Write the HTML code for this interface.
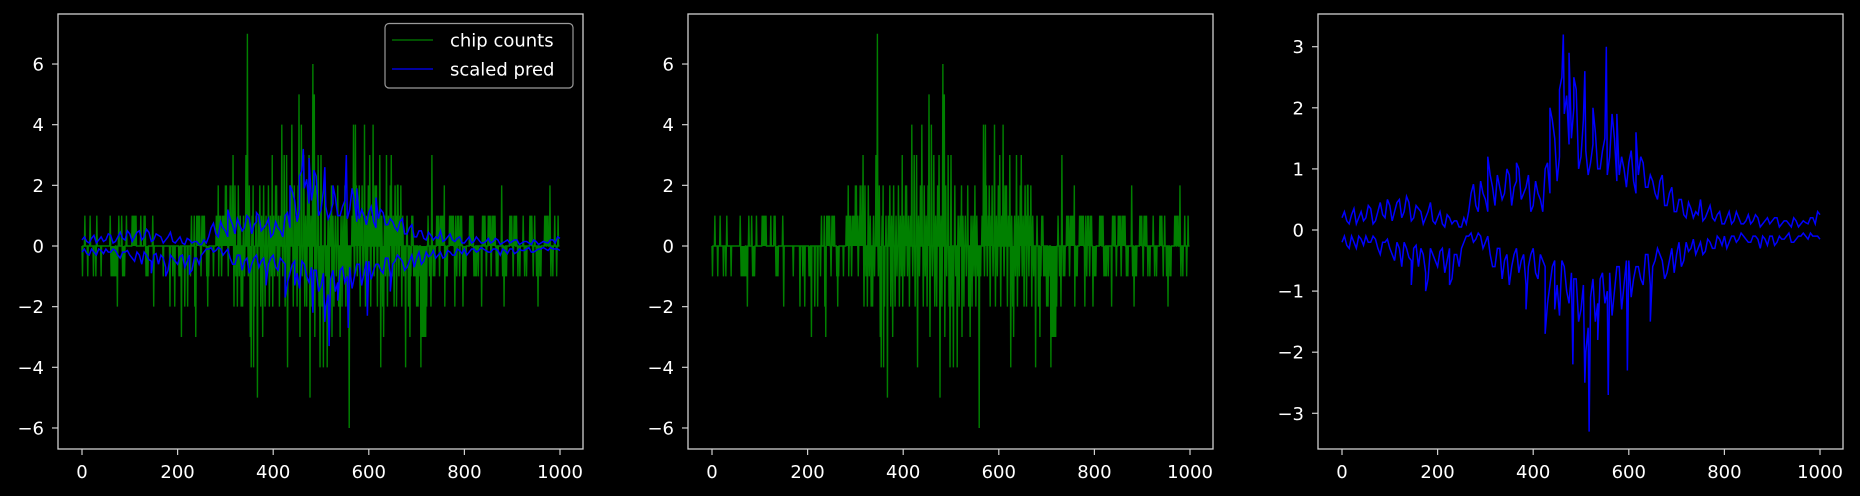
<!DOCTYPE html>
<html><head><meta charset="utf-8"><style>
html,body{margin:0;padding:0;background:#000;}
svg{display:block;}
text{font-family:"DejaVu Sans","Liberation Sans",sans-serif;fill:#fff;font-size:18px;}
</style></head><body>
<svg id="chart" width="1860" height="496" viewBox="0 0 1860 496" xmlns="http://www.w3.org/2000/svg">
<rect x="0" y="0" width="1860" height="496" fill="#000"/>
</svg>
<script>
// ---- data ----
const xTicks = [0, 200, 400, 600, 800, 1000];
const yTicksCounts = [-6, -4, -2, 0, 2, 4, 6];
const yTicksPred = [-3, -2, -1, 0, 1, 2, 3];
const chipIdx = [1,6,12,17,24,29,31,40,59,61,63,65,67,69,72,74,77,83,85,87,89,93,105,107,109,111,113,123,130,132,134,136,138,148,150,170,184,190,194,203,205,208,215,221,227,229,235,236,238,240,242,244,246,249,251,253,256,261,263,265,275,281,283,285,286,288,290,292,294,296,298,300,302,304,306,308,310,312,314,316,318,320,322,325,327,329,331,333,336,338,340,343,346,348,350,352,354,356,358,359,361,364,367,369,372,374,376,378,380,383,385,387,390,392,394,396,398,399,401,403,405,407,409,411,413,415,418,420,423,425,428,430,432,434,436,439,442,444,446,448,450,452,454,456,459,461,464,466,468,470,472,475,477,479,481,483,486,487,489,491,494,496,498,500,502,505,508,510,513,515,517,519,522,523,525,527,530,532,535,537,540,542,544,546,548,550,552,554,556,559,562,565,568,570,572,574,576,578,580,582,584,586,588,591,593,595,597,599,602,604,606,609,611,613,616,618,620,623,625,627,629,631,633,635,637,639,641,643,645,647,649,651,653,655,657,658,660,661,663,665,667,669,671,673,677,680,683,686,688,690,692,694,697,700,703,705,709,711,713,715,717,719,721,724,727,730,732,735,738,742,744,746,748,750,752,754,756,758,759,762,764,769,771,773,775,777,780,782,784,786,788,790,792,794,797,799,801,803,811,813,815,818,820,822,825,829,836,838,840,843,846,850,852,854,856,858,860,862,864,867,870,878,880,883,885,888,895,897,899,902,904,906,909,912,916,923,926,930,937,939,941,944,947,951,954,958,960,968,970,973,975,979,981,985,989,993,996];
const chipVal = [-1,1,-1,1,-1,-1,1,-1,1,-1,-1,-1,-1,-1,-1,-2,1,1,-1,-1,-1,1,1,1,1,1,1,1,1,1,-1,-1,-1,1,-2,-1,-2,-1,-2,-1,-1,-3,-2,-2,-1,1,1,-2,-3,1,1,1,1,-1,1,1,1,-1,-2,-1,-1,1,1,2,-1,1,1,-1,1,1,1,2,2,1,-1,1,2,1,2,3,-2,2,-1,-2,2,-1,1,-2,-2,1,-1,3,7,-1,2,-3,-4,1,2,-4,-2,1,-5,1,2,-2,1,-3,2,-2,1,-1,2,-2,1,-1,3,-2,1,-1,2,2,-1,1,-2,1,4,-1,3,-2,3,-4,1,-1,2,4,-2,2,-1,1,-2,2,5,-3,4,-1,3,-2,1,-2,2,3,-5,1,-2,6,5,-3,2,-1,3,-2,-4,3,-2,-4,2,-1,-4,1,-2,1,2,-3,1,-2,1,-1,2,-2,-3,1,-2,1,-1,2,-2,1,-1,-6,-1,1,4,-1,4,2,-1,1,2,-2,1,2,-1,4,-2,1,-1,2,3,-2,1,4,-1,2,2,-2,1,3,-4,1,-2,-3,1,-1,3,-2,1,-1,2,3,-1,1,-2,2,1,-2,2,2,-1,1,2,-2,1,-1,-4,1,-2,-3,-1,1,1,-1,-1,-2,-2,-1,-4,-3,-3,-3,-3,-3,-2,1,-1,-2,3,-1,-1,1,1,1,-1,1,1,1,1,2,-2,-1,-1,1,1,1,1,1,-2,1,-1,1,1,-1,1,1,-2,-1,-1,-1,1,1,1,1,-1,-1,-1,-1,-2,1,1,1,-1,1,1,1,-1,1,1,1,1,-1,-1,2,-1,-2,-1,-1,1,1,1,-1,1,1,1,-1,-1,1,-1,-1,1,1,1,-1,1,-1,-2,-1,-1,1,1,1,1,2,-1,-1,1,-1,1];
const predIdx = [0,10,20,30,40,50,60,70,80,90,100,110,120,130,140,150,160,170,180,190,200,210,220,230,240,250,260,270,280,290,300,310,320,330,340,350,360,370,380,390,400,410,420,430,440,450,460,470,480,490,500,510,520,530,540,550,560,570,580,590,600,610,620,630,640,650,660,670,680,690,700,710,720,730,740,750,760,770,780,790,800,810,820,830,840,850,860,870,880,890,900,910,920,930,940,950,960,970,980,990,1000];
const predUpper = [0.2,0.15,0.25,0.1,0.3,0.2,0.35,0.15,0.45,0.2,0.4,0.3,0.5,0.3,0.45,0.2,0.35,0.1,0.3,0.15,0.2,0.1,0.25,0.1,0.15,0.05,0.1,0.6,0.4,0.8,0.5,0.9,0.4,0.7,0.6,0.9,0.7,1.0,0.6,0.9,0.4,0.6,0.3,1.1,1.8,0.8,2.5,2.2,1.5,2.3,1.2,1.3,1.1,1.6,1.0,1.5,1.2,1.5,0.9,1.0,1.1,0.8,0.9,1.1,0.7,0.8,0.5,0.9,0.4,0.7,0.3,0.5,0.2,0.35,0.3,0.5,0.2,0.4,0.15,0.3,0.1,0.3,0.15,0.2,0.1,0.25,0.15,0.2,0.1,0.2,0.15,0.2,0.1,0.15,0.05,0.15,0.1,0.12,0.2,0.1,0.25];
const predLower = [-0.2,-0.25,-0.1,-0.3,-0.15,-0.1,-0.2,-0.15,-0.4,-0.2,-0.3,-0.5,-0.3,-0.2,-0.45,-0.3,-0.6,-0.4,-0.8,-0.4,-0.6,-0.3,-0.5,-0.8,-0.4,-0.3,-0.1,-0.05,-0.15,-0.1,-0.2,-0.4,-0.6,-0.3,-0.5,-0.9,-0.4,-0.7,-0.4,-0.6,-0.3,-0.8,-0.5,-1.2,-0.6,-0.9,-0.5,-1.0,-0.7,-0.8,-1.3,-2.0,-1.1,-1.5,-0.8,-1.2,-0.7,-1.0,-0.6,-0.9,-0.5,-0.8,-0.6,-0.9,-0.4,-0.6,-0.3,-0.5,-0.7,-0.3,-0.4,-0.6,-0.2,-0.3,-0.4,-0.2,-0.35,-0.2,-0.3,-0.15,-0.1,-0.2,-0.1,-0.15,-0.1,-0.2,-0.1,-0.15,-0.1,-0.25,-0.1,-0.2,-0.15,-0.1,-0.2,-0.15,-0.1,-0.1,-0.05,-0.1,-0.15];
const predMidIdx = [5,15,25,35,45,55,65,75,85,95,105,115,125,135,145,155,165,175,185,195,205,215,225,235,245,255,265,275,285,295,305,315,325,335,345,355,365,375,385,395,405,415,425,435,445,455,465,475,485,495,505,515,525,535,545,555,565,575,585,595,605,615,625,635,645,655,665,675,685,695,705,715,725,735,745,755,765,775,785,795,805,815,825,835,845,855,865,875,885,895,905,915,925,935,945,955,965,975,985,995];
const predUpperMid = [0.3,0.1,0.35,0.2,0.15,0.4,0.1,0.3,0.25,0.5,0.15,0.45,0.2,0.55,0.15,0.4,0.3,0.2,0.45,0.1,0.3,0.05,0.2,0.15,0.05,0.2,0.3,0.75,0.3,0.6,0.3,0.7,0.9,0.5,1.0,0.4,0.8,0.5,0.7,0.3,0.8,0.5,1.0,0.6,1.5,1.2,1.9,1.4,2.0,1.0,1.8,0.9,1.4,1.0,1.3,0.9,1.9,0.8,1.2,0.7,1.3,0.6,1.2,0.7,0.9,0.6,0.8,0.4,0.6,0.3,0.5,0.25,0.45,0.2,0.25,0.15,0.3,0.2,0.25,0.1,0.2,0.1,0.3,0.1,0.15,0.1,0.25,0.05,0.15,0.1,0.2,0.05,0.15,0.1,0.2,0.05,0.15,0.1,0.2,0.3];
const predLowerMid = [-0.1,-0.3,-0.2,-0.1,-0.25,-0.2,-0.1,-0.3,-0.2,-0.15,-0.4,-0.2,-0.6,-0.3,-0.5,-0.25,-0.3,-0.7,-0.3,-0.5,-0.35,-0.7,-0.3,-0.4,-0.6,-0.2,-0.1,-0.2,-0.05,-0.3,-0.1,-0.6,-0.3,-0.8,-0.4,-0.6,-0.3,-0.5,-0.9,-0.4,-0.7,-0.4,-0.6,-0.9,-0.5,-1.4,-0.6,-1.2,-0.8,-1.5,-0.9,-1.6,-0.8,-1.2,-0.7,-1.0,-1.4,-0.6,-1.3,-0.5,-1.1,-0.6,-0.8,-0.4,-0.9,-0.5,-0.4,-0.8,-0.5,-0.7,-0.2,-0.5,-0.35,-0.15,-0.3,-0.4,-0.15,-0.3,-0.1,-0.25,-0.3,-0.1,-0.2,-0.05,-0.15,-0.2,-0.1,-0.3,-0.15,-0.1,-0.25,-0.1,-0.15,-0.05,-0.2,-0.1,-0.05,-0.15,-0.1,-0.1];
const upperSpikeIdx = [305,365,435,455,463,475,485,508,525,553,575,615];
const upperSpikeVal = [1.2,1.1,2.0,2.3,3.2,2.9,2.5,2.6,2.0,3.0,1.9,1.6];
const lowerSpikeIdx = [145,175,225,385,425,445,483,508,517,535,557,597,645];
const lowerSpikeVal = [-0.9,-1.0,-0.9,-1.3,-1.7,-1.3,-2.2,-2.5,-3.3,-1.8,-2.7,-2.3,-1.5];

// ---- layout ----
const NS = "http://www.w3.org/2000/svg";
const svg = document.getElementById('chart');
const TOP = 14, BOTTOM = 449, PW = 525;
const panels = [
  {left: 58, name: 'panel-combined', y0: 246, ppu: 30.33, ticks: yTicksCounts},
  {left: 688, name: 'panel-chip-counts', y0: 246, ppu: 30.33, ticks: yTicksCounts},
  {left: 1318, name: 'panel-scaled-pred', y0: 230, ppu: 61.1, ticks: yTicksPred}
];
function mk(tag, attrs, parent) {
  const e = document.createElementNS(NS, tag);
  for (const k in attrs) e.setAttribute(k, attrs[k]);
  (parent || svg).appendChild(e);
  return e;
}
function fmt(v) { return v < 0 ? '\u2212' + Math.abs(v) : String(v); }

const chipSeries = new Array(1000).fill(0);
chipIdx.forEach((i, k) => { chipSeries[i] = chipVal[k]; });
function mergeSeries(lists) {
  let pts = [];
  lists.forEach(([ix, vals]) => { pts = pts.concat(ix.map((x, k) => [x, vals[k]])); });
  pts.sort((a, b) => a[0] - b[0]);
  return pts;
}
const upperPts = mergeSeries([[predIdx, predUpper], [predMidIdx, predUpperMid], [upperSpikeIdx, upperSpikeVal]]);
const lowerPts = mergeSeries([[predIdx, predLower], [predMidIdx, predLowerMid], [lowerSpikeIdx, lowerSpikeVal]]);

panels.forEach((p, pi) => {
  const g = mk('g', {});
  
  
  const xs = v => p.left + 24 + v * 0.478;
  const ys = v => p.y0 - v * p.ppu;
  const clipId = 'clip' + pi;
  const cp = mk('clipPath', {id: clipId}, g);
  mk('rect', {x: p.left, y: TOP, width: PW, height: BOTTOM - TOP}, cp);
  const plot = mk('g', {'clip-path': 'url(#' + clipId + ')'}, g);
  
  

  if (pi < 2) {
    const d = chipSeries.map((v, i) => (i ? 'L' : 'M') + xs(i).toFixed(2) + ' ' + ys(v).toFixed(2)).join('');
    const pl = mk('path', {d: d, fill: 'none', stroke: '#008000', 'stroke-width': 1.4}, plot);
    
    
  }
  if (pi !== 1) {
    [upperPts, lowerPts].forEach((pts, si) => {
      const d = pts.map((q, i) => (i ? 'L' : 'M') + xs(q[0]).toFixed(2) + ' ' + ys(q[1]).toFixed(2)).join('');
      const pl = mk('path', {d: d, fill: 'none', stroke: '#0000ff', 'stroke-width': 1.5}, plot);
      
      
    });
  }
  const fr = mk('rect', {x: p.left, y: TOP, width: PW, height: BOTTOM - TOP, fill: 'none', stroke: '#d0d0d0', 'stroke-width': 1.3}, g);
  
  
  xTicks.forEach(t => {
    const x = xs(t);
    mk('line', {x1: x, x2: x, y1: BOTTOM, y2: BOTTOM + 6, stroke: '#d0d0d0', 'stroke-width': 1.2}, g);
    const tx = mk('text', {x: x, y: 478, 'text-anchor': 'middle'}, g);
    tx.textContent = fmt(t);
    
    
  });
  p.ticks.forEach(t => {
    const y = ys(t);
    mk('line', {x1: p.left - 6, x2: p.left, y1: y, y2: y, stroke: '#d0d0d0', 'stroke-width': 1.2}, g);
    const ty = mk('text', {x: p.left - 14, y: y + 6.5, 'text-anchor': 'end'}, g);
    ty.textContent = fmt(t);
    
    
  });
});

const lg = mk('g', {});


mk('rect', {x: 385, y: 23.5, width: 188, height: 64.5, rx: 4, fill: '#000', 'fill-opacity': 0.8, stroke: '#9a9a9a', 'stroke-width': 1.2}, lg);
const legendLabels = ['chip counts', 'scaled pred'];
const legendColors = ['#008000', '#0000ff'];
legendLabels.forEach((lab, k) => {
  const y = 40 + k * 29;
  const e = mk('g', {}, lg);
  
  
  mk('line', {x1: 392, x2: 433, y1: y, y2: y, stroke: legendColors[k], 'stroke-width': 1.3}, e);
  const t = mk('text', {x: 450, y: y + 6.5}, e);
  t.textContent = lab;
});
</script>
</body></html>
